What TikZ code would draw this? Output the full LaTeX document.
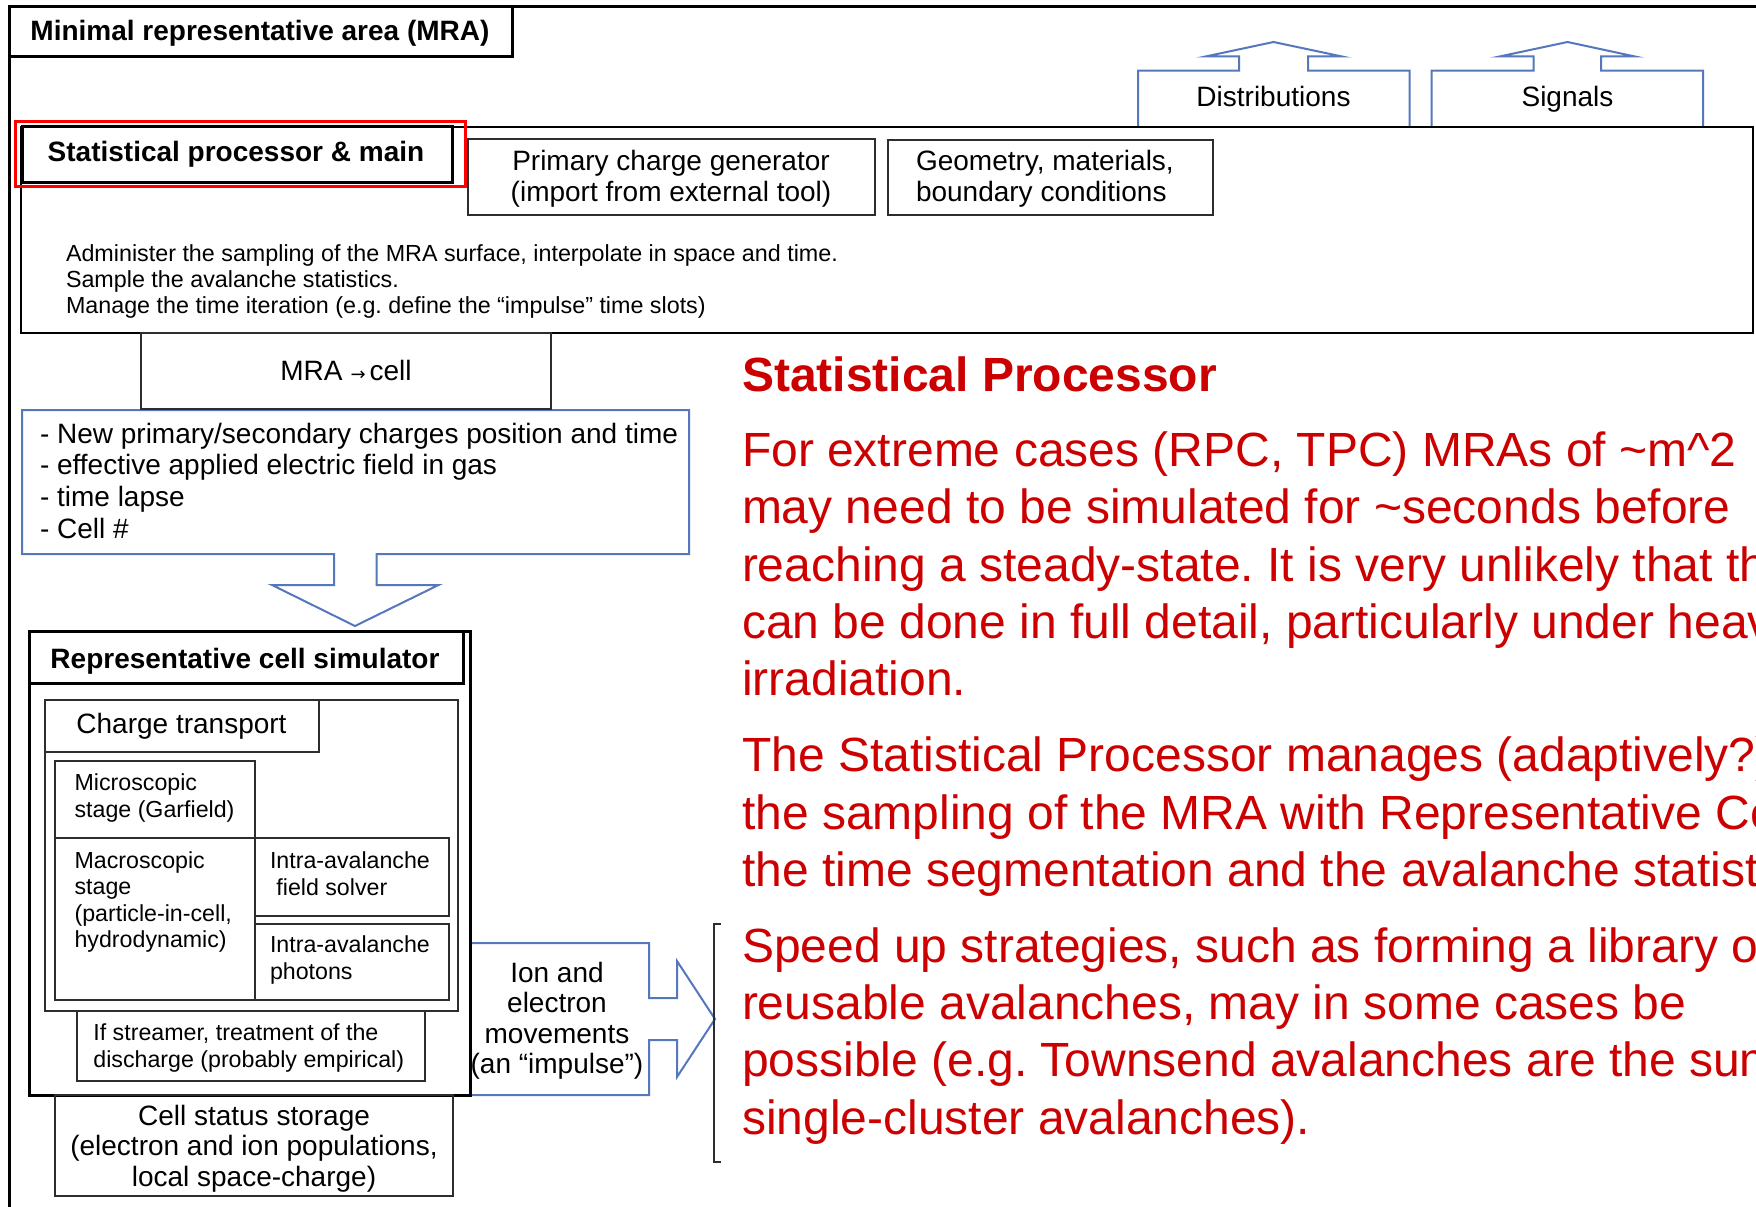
\documentclass[tikz,border=0pt]{standalone}
\usepackage{fontspec}
\setmainfont{Liberation Sans}
\newfontfamily\arrowfont{DejaVu Sans}
\usetikzlibrary{fit}
\frenchspacing
\definecolor{flowblue}{RGB}{84,119,190}
\definecolor{notered}{RGB}{204,0,0}
\definecolor{edgegray}{RGB}{45,45,45}
\newcommand\fsBig{\fontsize{28}{31}\selectfont}
\newcommand\fsNote{\fontsize{48}{57.3}\selectfont}
% invisible strut fixing the height of a first text line
\newcommand\lead[1]{\rule{0pt}{#1}}
\tikzset{
  heavybox/.style={draw=black, line width=3pt, inner sep=0pt, outer sep=0pt},
  midbox/.style={draw=black, line width=2.5pt, inner sep=0pt, outer sep=0pt},
  thinbox/.style={draw=edgegray, line width=2pt, inner sep=0pt, outer sep=0pt},
  flagbox/.style={draw=red, line width=3pt, inner sep=0pt, outer sep=0pt},
  blockarrow/.style={draw=flowblue, line width=2pt, line join=miter},
  lbl/.style={inner sep=0pt, outer sep=0pt, text=black},
  notetext/.style={inner sep=0pt, outer sep=0pt, text=notered, align=left, font=\fsNote},
}
\begin{document}
\begin{tikzpicture}[x=1pt,y=-1pt]
\useasboundingbox (0,0) rectangle (1756,1207);
\clip (0,0) rectangle (1756,1207);
\fill[white] (0,0) rectangle (1756,1207);

% outer frame of the minimal representative area
\node[heavybox, fit={(9,7) (1800,1260)}] (mraframe) {};
\node[heavybox, fill=white, fit={(9,7) (512,57)}] (mratitle) {};
\node[lbl, font=\bfseries\fsBig, anchor=base] (mratitletxt) at (260,40.5) {Minimal representative area (MRA)};

% output block arrows on top of the statistical processor
\draw[blockarrow] (1138,127) -- (1138,70.7) -- (1239,70.7) -- (1239,56.5) -- (1205.5,56.5)
  -- (1273.5,42) -- (1342,56.5) -- (1308,56.5) -- (1308,70.7) -- (1409.5,70.7) -- (1409.5,127);
\node[lbl, font=\fsBig, anchor=base] (distr) at (1273.5,106.5) {Distributions};
\draw[blockarrow] (1431.5,127) -- (1431.5,70.7) -- (1533.5,70.7) -- (1533.5,56.5) -- (1499.5,56.5)
  -- (1567.5,42) -- (1635,56.5) -- (1601,56.5) -- (1601,70.7) -- (1703,70.7) -- (1703,127);
\node[lbl, font=\fsBig, anchor=base] (signals) at (1567.5,106.5) {Signals};

% statistical processor & main
\node[midbox, fit={(21,127) (1753,333)}] (spmain) {};
\node[heavybox, fill=white, fit={(22,126) (452,182)}] (sptitle) {};
\node[flagbox, fit={(15.5,121) (465,186)}] (spflag) {};
\node[lbl, font=\bfseries\fsBig, anchor=base] (sptitletxt) at (236,161.5) {Statistical processor \& main};

\node[thinbox, fit={(468,139) (875,215)}] (pcg) {};
\node[lbl, font=\fsBig, align=center, anchor=north] (pcgtxt) at (671,145.5)
  {\lead{25pt}Primary charge generator\\(import from external tool)};
\node[thinbox, fit={(888,140) (1213,215)}] (geom) {};
\node[lbl, font=\fsBig, align=left, anchor=north west] (geomtxt) at (916,145.5)
  {\lead{25pt}Geometry, materials,\\boundary conditions};

\node[lbl, font=\fontsize{23.3}{26}\selectfont, align=left, anchor=north west] (sptasks) at (66,241)
  {\lead{20pt}Administer the sampling of the MRA surface, interpolate in space and time.\\
   Sample the avalanche statistics.\\
   Manage the time iteration (e.g. define the “impulse” time slots)};

% MRA -> cell hand-over
\draw[blockarrow] (22,410) -- (689,410) -- (689,554) -- (376.5,554) -- (376.5,585) -- (438.5,585)
  -- (355,626) -- (272,585) -- (334,585) -- (334,554) -- (22,554) -- cycle;
\node[lbl, font=\fontsize{28}{31.67}\selectfont, align=left, anchor=north west] (handover) at (40,418)
  {\lead{25pt}- New primary/secondary charges position and time\\
   - effective applied electric field in gas\\
   - time lapse\\
   - Cell \#};
\node[thinbox, fit={(141,333) (551,409)}] (mracell) {};
\node[lbl, font=\fsBig, anchor=base] (mracelltxt) at (346,380)
  {MRA\hspace{8pt}{\arrowfont\fontsize{18}{18}\selectfont →}\hspace{4pt}cell};

% cell output block arrow
\draw[blockarrow] (470,943) -- (649,943) -- (649,998) -- (677,998) -- (677,961) -- (715,1019)
  -- (677,1077) -- (677,1040) -- (649,1040) -- (649,1095) -- (470,1095);
\node[lbl, font=\fontsize{28}{30.5}\selectfont, align=center, anchor=north] (impulse) at (557,957)
  {\lead{25pt}Ion and\\electron\\movements\\(an “impulse”)};

% representative cell simulator
\node[heavybox, fit={(29,631) (470,1095)}] (rcs) {};
\node[heavybox, fit={(29,631) (463,683)}] (rcstitle) {};
\node[lbl, font=\bfseries\fsBig, anchor=base] (rcstitletxt) at (245,668) {Representative cell simulator};

\node[thinbox, fit={(45,700) (458,1011)}] (ctbox) {};
\node[thinbox, fit={(45,700) (318.5,751.5)}] (cttitle) {};
\node[lbl, font=\fsBig, anchor=base] (cttitletxt) at (181.5,733) {Charge transport};

\node[thinbox, fit={(55,760.5) (255,838)}] (micro) {};
\node[lbl, font=\fontsize{23.2}{27}\selectfont, align=left, anchor=north west] (microtxt) at (74.6,770)
  {\lead{20pt}Microscopic\\stage (Garfield)};
\node[thinbox, fit={(55,838) (255,1000)}] (macro) {};
\node[lbl, font=\fontsize{23.2}{26.5}\selectfont, align=left, anchor=north west] (macrotxt) at (74.6,848)
  {\lead{20pt}Macroscopic\\stage\\(particle-in-cell,\\hydrodynamic)};
\node[thinbox, fit={(255,838) (449,915.7)}] (fsolver) {};
\node[lbl, font=\fontsize{23.2}{27}\selectfont, align=left, anchor=north west] (fsolvertxt) at (270,848)
  {\lead{20pt}Intra-avalanche\\\hspace*{6.4pt}field solver};
\node[thinbox, fit={(255,924) (449,1000)}] (photons) {};
\node[lbl, font=\fontsize{23.2}{27}\selectfont, align=left, anchor=north west] (photonstxt) at (270,932)
  {\lead{20pt}Intra-avalanche\\photons};
\node[thinbox, fit={(77,1011) (424.7,1081)}] (streamer) {};
\node[lbl, font=\fontsize{23.2}{27}\selectfont, align=left, anchor=north west] (streamertxt) at (93.4,1020)
  {\lead{20pt}If streamer, treatment of the\\discharge (probably empirical)};

\node[thinbox, fit={(55,1095) (453,1196)}] (storage) {};
\node[lbl, font=\fontsize{28}{30.7}\selectfont, align=center, anchor=north] (storagetxt) at (254,1100)
  {\lead{25pt}Cell status storage\\(electron and ion populations,\\local space-charge)};

% bracket grouping the notes on speed-up strategies
\coordinate (brtop) at (721,924);
\coordinate (brbot) at (721,1162);
\draw[edgegray, line width=2pt] (brtop) -- (714,924) -- (714,1162) -- (brbot);

% notes on the statistical processor
\node[lbl, text=notered, font=\bfseries\fontsize{48}{57}\selectfont, anchor=base west] (notetitle)
  at (742,391.5) {Statistical Processor};
\node[notetext, anchor=north west] (note1) at (742,424.5)
  {\lead{42pt}For extreme cases (RPC, TPC) MRAs of \textasciitilde m\textasciicircum 2\\
   may need to be simulated for \textasciitilde seconds before\\
   reaching a steady-state. It is very unlikely that this\\
   can be done in full detail, particularly under heavy\\
   irradiation.};
\node[notetext, anchor=north west] (note2) at (742,729.7)
  {\lead{42pt}The Statistical Processor manages (adaptively?)\\
   the sampling of the MRA with Representative Cells\\
   the time segmentation and the avalanche statistics};
\node[notetext, anchor=north west] (note3) at (742,920.3)
  {\lead{42pt}Speed up strategies, such as forming a library of\\
   reusable avalanches, may in some cases be\\
   possible (e.g. Townsend avalanches are the sum of\\
   single-cluster avalanches).};
\end{tikzpicture}
\end{document}
